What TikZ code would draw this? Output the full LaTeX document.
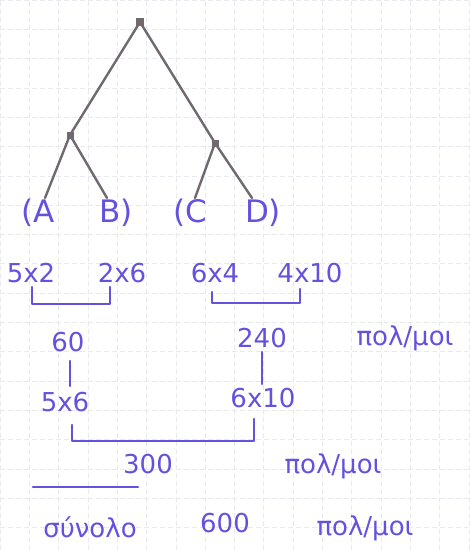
\documentclass[tikz,border=0pt]{standalone}
\usepackage{fontspec}
\setmainfont{DejaVu Sans}
\usepackage{tikz}
\usetikzlibrary{positioning}

\definecolor{ink}{RGB}{100,82,222}
\definecolor{pencil}{RGB}{112,106,112}
\definecolor{paper}{RGB}{232,234,240}

\begin{document}
\begin{tikzpicture}[
    x=1pt, y=1pt,
    lbl/.style={text=ink, inner sep=1pt, font=\fontsize{26}{28}\selectfont},
    leaf/.style={lbl, font=\fontsize{31}{33}\selectfont},
    edge/.style={draw=pencil, line width=2.4pt, line cap=round},
    knot/.style={fill=pencil, minimum size=8pt, inner sep=0pt, rectangle},
    bracket/.style={draw=ink, line width=2.4pt, line cap=round, line join=round}
]
% Paper with a faint grid.
\useasboundingbox (0,0) rectangle (470,-550);
\fill[white] (0,0) rectangle (470,-550);
\draw[paper, line width=0.5pt, dash pattern=on 5pt off 3pt] (0,0) grid[step=29.3] (470,-550);

% Tree of the product order.
\node[knot] (root) at (140,-22) {};
\node[knot, minimum size=7pt] (left) at (70,-135) {};
\node[knot, minimum size=7pt] (right) at (215,-143) {};

\node[leaf] (a) at (38,-213) {(A};
\node[leaf] (b) at (116,-213) {B)};
\node[leaf] (c) at (190,-213) {(C};
\node[leaf] (d) at (263,-213) {D)};

\draw[edge] (root.center) -- (left.center);
\draw[edge] (root.center) -- (right.center);
\draw[edge] (left.center) -- ([xshift=7pt]a.north);
\draw[edge] (left.center) -- ([xshift=-9pt]b.north);
\draw[edge] (right.center) -- ([xshift=5pt]c.north);
\draw[edge] (right.center) -- ([xshift=-11pt]d.north);

% Matrix sizes and the first products.
\node[lbl] (s52) at (31,-273) {5x2};
\node[lbl] (s26) at (122,-273) {2x6};
\node[lbl] (s64) at (215,-273) {6x4};
\node[lbl] (s410) at (310,-273) {4x10};

\draw[bracket] ([shift={(1pt,-3pt)}]s52.south) -- ++(0,-17) -| ([shift={(-12pt,-3pt)}]s26.south);
\draw[bracket] ([shift={(-3pt,-8pt)}]s64.south) -- ++(0,-11) -| ([shift={(-10pt,-5pt)}]s410.south);

\node[lbl] (p60) at (68,-342) {60};
\node[lbl] (p240) at (262,-338) {240};
\node[lbl] (m1) at (405,-338) {πολ/μοι};

\node[lbl] (s56) at (65,-402) {5x6};
\node[lbl] (s610) at (263,-398) {6x10};

\draw[bracket, shorten <=8pt, shorten >=5pt] ([xshift=2pt]p60.south) -- ([xshift=2pt]p60.south |- s56.north);
\draw[bracket, shorten <=3pt, shorten >=3pt] (p240.south) -- (p240.south |- s610.north);

% Last product and the total.
\draw[bracket] ([shift={(7pt,-12pt)}]s56.south) -- ++(0,-16) -| ([shift={(-9pt,-10pt)}]s610.south);

\node[lbl] (p300) at (148,-464) {300};
\node[lbl] (m2) at (333,-466) {πολ/μοι};

\coordinate (u1) at (33,-487);
\coordinate (u2) at (138,-487);
\draw[bracket] (u1) -- (u2);

\node[lbl] (sum) at (90,-527) {σύνολο};
\node[lbl] (p600) at (225,-523) {600};
\node[lbl] (m3) at (365,-528) {πολ/μοι};

\end{tikzpicture}
\end{document}
